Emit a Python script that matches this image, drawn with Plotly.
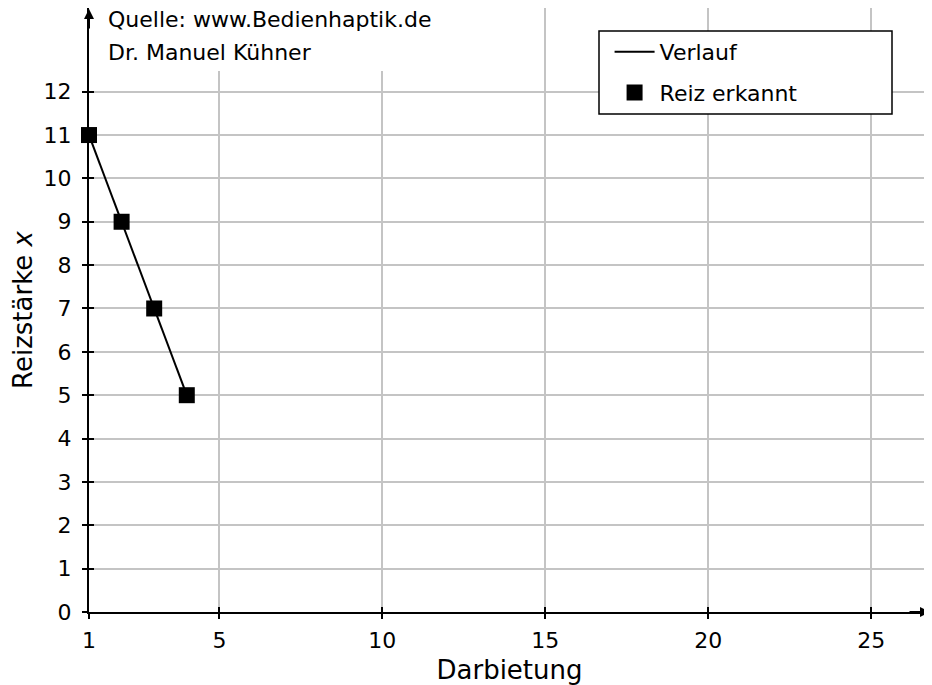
import plotly.graph_objects as go

# Data
darbietung = [1, 2, 3, 4]
reizstaerke = [11, 9, 7, 5]
x_ticks = [1, 5, 10, 15, 20, 25]
y_ticks = list(range(0, 13))
x_range = [1, 26.8]
y_range = [0, 13.93]

FONT = "DejaVu Sans"
FS = 22

# page offset of the plot div (browser default body margin)
OFF = 8
PLOT_H = 604  # plot area height in px


def py(page_y):
    """paper y from a page pixel y (reference coords)"""
    return (612 - page_y) / PLOT_H


def px(page_x):
    return (page_x - 89) / 841


fig = go.Figure()
fig.add_trace(go.Scatter(x=darbietung, y=reizstaerke, mode="lines", name="Verlauf",
                         line=dict(color="black", width=2), legendgroup="a",
                         cliponaxis=False))
fig.add_trace(go.Scatter(x=darbietung, y=reizstaerke, mode="markers", name="Reiz erkannt",
                         marker=dict(symbol="square", size=16, color="black"),
                         legendgroup="b", cliponaxis=False))
# invisible trace to activate overlay axes (inner tick halves)
fig.add_trace(go.Scatter(x=[x_range[0]], y=[y_range[0]], xaxis="x2", yaxis="y2",
                         mode="markers", marker=dict(opacity=0), showlegend=False,
                         hoverinfo="skip"))

grid = "#c4c4c4"
fig.update_layout(
    width=932 - OFF, height=685 - OFF,
    margin=dict(l=89 - OFF, r=2, t=0, b=73, autoexpand=False),
    paper_bgcolor="white", plot_bgcolor="white",
    font=dict(family=FONT, size=FS, color="black"),
    showlegend=True,
    legend=dict(x=0.619, y=py(31), xanchor="left", yanchor="top",
                bgcolor="rgba(0,0,0,0)", borderwidth=0, itemwidth=40,
                tracegroupgap=9, font=dict(size=FS)),
    xaxis=dict(range=x_range, tickvals=x_ticks, ticktext=[str(v) for v in x_ticks],
               showgrid=True, gridcolor=grid, gridwidth=2, zeroline=False,
               showline=True, linecolor="black", linewidth=2, automargin=False,
               ticks="outside", ticklen=5, tickwidth=2, tickcolor="black",
               ticklabelstandoff=3,
               title=dict(text="Darbietung")),
    yaxis=dict(range=y_range, tickvals=y_ticks, ticktext=[str(v) for v in y_ticks],
               showgrid=True, gridcolor=grid, gridwidth=2, zeroline=False,
               showline=True, linecolor="black", linewidth=2, automargin=False,
               ticks="outside", ticklen=5, tickwidth=2, tickcolor="black",
               ticklabelstandoff=6,
               title=dict(text="Reizstärke <i>x</i>")),
    xaxis2=dict(range=x_range, overlaying="x", tickvals=x_ticks, showticklabels=False,
                showgrid=False, zeroline=False, showline=False, automargin=False,
                ticks="inside", ticklen=5, tickwidth=2, tickcolor="black"),
    yaxis2=dict(range=y_range, overlaying="y", tickvals=y_ticks, showticklabels=False,
                showgrid=False, zeroline=False, showline=False, automargin=False,
                ticks="inside", ticklen=5, tickwidth=2, tickcolor="black"),
)

# white box behind source text, legend box
fig.add_shape(type="rect", xref="paper", yref="paper", x0=px(100), x1=px(452), y0=py(71), y1=1.03,
              fillcolor="white", line=dict(width=0), layer="above")
fig.add_shape(type="rect", xref="paper", yref="paper", x0=px(599), x1=px(892), y0=py(114), y1=py(31),
              fillcolor="white", line=dict(color="black", width=1.5), layer="above")

fig.add_annotation(text="Quelle: www.Bedienhaptik.de", xref="paper", yref="paper",
                   x=px(106), y=py(19), xanchor="left", yanchor="middle",
                   showarrow=False, font=dict(size=FS))
fig.add_annotation(text="Dr. Manuel Kühner", xref="paper", yref="paper",
                   x=px(106), y=py(52), xanchor="left", yanchor="middle",
                   showarrow=False, font=dict(size=FS))

# axis arrows
fig.add_annotation(text="", xref="paper", yref="paper", x=0, y=1.0, ax=0, ay=22,
                   showarrow=True, arrowhead=2, arrowsize=1, arrowwidth=2, arrowcolor="black")
fig.add_annotation(text="", xref="paper", yref="paper", x=1.0, y=0, ax=-22, ay=0,
                   showarrow=True, arrowhead=2, arrowsize=1, arrowwidth=2, arrowcolor="black")

fig.write_html("out.html")
